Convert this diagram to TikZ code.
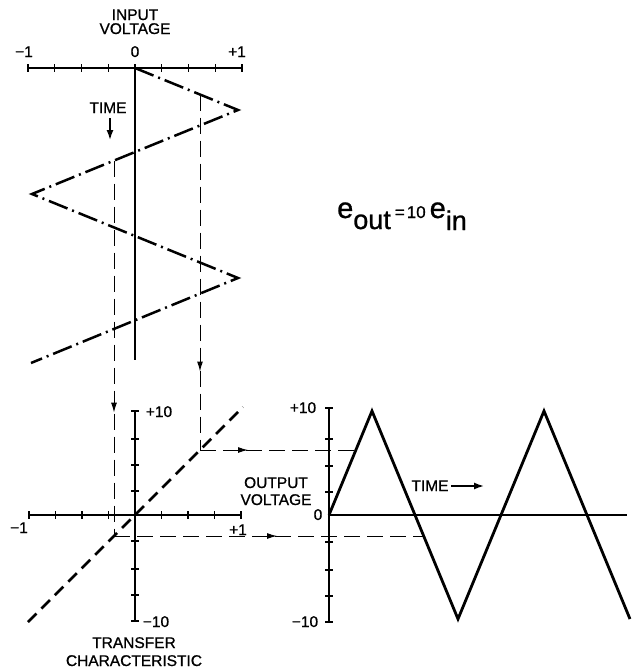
\documentclass[tikz,border=0pt]{standalone}
\usepackage{fontspec}
\setmainfont{Liberation Sans}
\newfontfamily\labfont[FakeBold=0.9]{Liberation Sans}
\usetikzlibrary{arrows.meta,decorations.markings}
\begin{document}
\begin{tikzpicture}[x=1pt,y=-1pt,
  axis/.style={line width=1.4pt},
  tk/.style={line width=1.2pt},
  wavein/.style={line width=2.5pt, dash pattern=on 20pt off 5pt on 2pt off 5pt},
  waveout/.style={line width=2.8pt, line join=miter},
  transfer/.style={line width=2.8pt, dash pattern=on 12pt off 7pt},
  proj/.style={line width=1pt, dash pattern=on 16pt off 7pt},
  lbl/.style={font=\labfont\fontsize{15.5}{16}\selectfont, inner sep=0pt, anchor=base},
  num/.style={font=\labfont\fontsize{15.5}{16}\selectfont, inner sep=0pt, anchor=base},
  arrowat/.style={postaction={decorate,decoration={markings,
      mark=at position #1 with {\arrow{Latex[length=10pt,width=6pt]}}}}},
  tip/.style={-{Latex[length=10pt,width=7pt]}}
]
\useasboundingbox (0,0) rectangle (632,670);

% ---------- input voltage axis ----------
\draw[axis] (28,68) -- (242,68);
\foreach \x in {28,54.75,81.5,108.25,135,161.75,188.5,215.25,242}
  \draw[tk] (\x,64) -- (\x,72);
\draw[axis] (135,68) -- (135,360);
\node[lbl] (inl1) at (135,20) {INPUT};
\node[lbl] (inl2) at (135,34) {VOLTAGE};
\node[num] (inm1) at (24,57) {−1};
\node[num] (in0) at (135,57) {0};
\node[num] (inp1) at (237,57) {+1};
\node[lbl] (tin) at (108,113) {TIME};
\coordinate (tinA) at (110,118);
\coordinate (tinB) at (110,140);
\draw[line width=1.5pt, tip] (tinA) -- (tinB);

% ---------- input wave ----------
\coordinate (i0) at (135,68);
\coordinate (i1) at (238,110);
\coordinate (i2) at (32,194);
\coordinate (i3) at (238,278);
\coordinate (i4) at (31,363);
\draw[wavein] (i0) -- (i1) -- (i2) -- (i3) -- (i4);

% ---------- transfer characteristic ----------
\draw[axis] (29,515) -- (241,515);
\foreach \x in {29,55.5,82,108.5,135,161.5,188,214.5,241}
  \draw[tk] (\x,511) -- (\x,519);
\draw[axis] (135,411) -- (135,621);
\foreach \y in {411,439,465,491,541,569,595,621}
  \draw[tk] (131,\y) -- (139,\y);
\coordinate (tr0) at (28,622);
\coordinate (tr1) at (243,407);
\draw[transfer] (tr0) -- (tr1);
\node[num] (trp10) at (159,417) {+10};
\node[num] (trm10) at (156,627) {−10};
\node[num] (trm1) at (19,533) {−1};
\node[num] (trp1) at (238,535) {+1};
\node[lbl] (trl1) at (134,648) {TRANSFER};
\node[lbl] (trl2) at (134,666) {CHARACTERISTIC};

% ---------- output axis ----------
\draw[axis] (329,408) -- (329,622);
\draw[axis] (329,515) -- (627,515);
\foreach \y in {408,439,466,492,542,570,596,622}
  \draw[tk] (325,\y) -- (333,\y);
\node[num] (op10) at (303,413) {+10};
\node[num] (o0) at (318,520) {0};
\node[num] (om10) at (305,627) {−10};
\node[lbl] (ol1) at (276,488) {OUTPUT};
\node[lbl] (ol2) at (276,505) {VOLTAGE};
\node[lbl] (tout) at (430,491) {TIME};
\coordinate (toutA) at (451,486);
\coordinate (toutB) at (484,486);
\draw[line width=1.5pt, tip] (toutA) -- (toutB);

% ---------- output wave ----------
\coordinate (o0w) at (329,515);
\coordinate (o1w) at (372,411);
\coordinate (o2w) at (458,619);
\coordinate (o3w) at (544,411);
\coordinate (o4w) at (630,619);
\draw[waveout] (o0w) -- (o1w) -- (o2w) -- (o3w) -- (o4w);

% ---------- projection lines ----------
\coordinate (pA) at (200,94.5);
\coordinate (pB) at (114,160.6);
\coordinate (tA) at (200,450);
\coordinate (tB) at (114,536);
\coordinate (oA) at (356,450);
\coordinate (oB) at (424,536);
\draw[proj, arrowat=277pt] (pA) -- (tA);
\draw[proj, arrowat=252pt] (pB) -- (tB);
\draw[proj, arrowat=48pt] (tA) -- (oA);
\draw[proj, arrowat=163pt] (tB) -- (oB);

% ---------- formula ----------
\node[inner sep=0pt, anchor=base west] (eq) at (337,218)
 {\labfont\fontsize{29}{29}\selectfont e\raisebox{-11pt}{\fontsize{27}{27}\selectfont out}\hspace{4pt}{\fontsize{17}{17}\selectfont =\hspace{2pt}10}\hspace{4pt}e\raisebox{-12pt}{\fontsize{27}{27}\selectfont in}};
\end{tikzpicture}
\end{document}
